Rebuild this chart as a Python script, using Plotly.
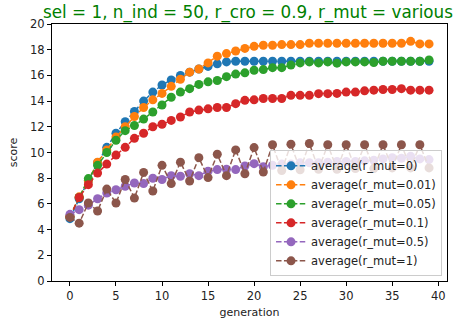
import plotly.graph_objects as go

generation = list(range(40))

mut_0 = [4.85, 6.4, 7.8, 9.2, 10.4, 11.5, 12.4, 13.2, 14.0, 14.7,
         15.25, 15.65, 16.0, 16.25, 16.5, 16.7, 16.9, 17.05, 17.1, 17.1,
         17.1, 17.1, 17.1, 17.1, 17.1, 17.1, 17.1, 17.1, 17.1, 17.1,
         17.1, 17.1, 17.1, 17.1, 17.1, 17.1, 17.1, 17.1, 17.1, 17.1]
mut_001 = [5.0, 6.55, 7.8, 9.25, 10.2, 11.2, 12.0, 12.8, 13.5, 14.1,
           14.6, 15.15, 15.7, 16.25, 16.5, 16.97, 17.5, 17.7, 17.9, 18.1,
           18.26, 18.35, 18.35, 18.4, 18.4, 18.4, 18.5, 18.5, 18.5, 18.5,
           18.5, 18.5, 18.5, 18.5, 18.5, 18.5, 18.5, 18.65, 18.45, 18.45]
mut_005 = [5.0, 6.5, 7.97, 9.0, 10.0, 10.95, 11.7, 12.1, 12.6, 13.15,
           13.7, 14.3, 14.7, 14.97, 15.3, 15.5, 15.6, 15.9, 16.1, 16.2,
           16.4, 16.45, 16.6, 16.6, 16.8, 16.97, 17.05, 16.97, 17.05, 16.95,
           17.05, 17.05, 17.05, 17.0, 17.1, 17.1, 17.1, 17.1, 17.1, 17.2]
mut_01 = [5.0, 6.5, 7.5, 8.4, 9.1, 9.8, 10.4, 11.1, 11.5, 12.0,
          12.2, 12.5, 12.76, 13.15, 13.3, 13.4, 13.5, 13.5, 13.8, 14.06,
          14.1, 14.2, 14.2, 14.2, 14.45, 14.45, 14.45, 14.58, 14.58, 14.6,
          14.7, 14.7, 14.8, 14.85, 14.9, 14.9, 14.97, 14.85, 14.85, 14.85]
mut_05 = [5.19, 5.55, 5.9, 6.4, 6.85, 7.1, 7.37, 7.63, 7.58, 8.0,
          7.9, 8.2, 8.15, 8.35, 8.2, 8.55, 8.67, 8.7, 8.67, 8.95,
          9.13, 8.9, 9.0, 9.1, 9.1, 9.2, 9.2, 9.2, 9.25, 9.3,
          9.3, 9.3, 9.35, 9.4, 9.5, 9.6, 9.55, 9.7, 9.5, 9.45]
mut_1 = [4.95, 4.5, 6.07, 5.45, 7.15, 6.07, 7.9, 6.45, 8.45, 7.0,
         9.0, 7.58, 9.25, 7.78, 9.6, 8.05, 9.86, 8.2, 10.2, 8.35,
         10.38, 8.48, 10.6, 8.6, 10.65, 8.65, 10.7, 8.7, 10.6, 8.7,
         10.6, 8.75, 10.6, 8.75, 10.6, 8.8, 10.6, 8.8, 10.6, 8.8]

series_names = ["average(r_mut=0)", "average(r_mut=0.01)", "average(r_mut=0.05)",
                "average(r_mut=0.1)", "average(r_mut=0.5)", "average(r_mut=1)"]
series_values = [mut_0, mut_001, mut_005, mut_01, mut_05, mut_1]
colors = ["#1f77b4", "#ff7f0e", "#2ca02c", "#d62728", "#9467bd", "#8c564b"]

y_ticks = list(range(0, 21, 2))
x_ticks = list(range(0, 41, 5))

FONT = "DejaVu Sans"
TITLE = "sel = 1, n_ind = 50, r_cro = 0.9, r_mut = various"

fig = go.Figure()
for name, vals, col in zip(series_names, series_values, colors):
    fig.add_trace(go.Scatter(
        x=generation, y=vals, name=name, mode="lines+markers",
        line=dict(color=col, width=1.5, dash="5.5px,2.4px"),
        marker=dict(color=col, size=9, line=dict(width=0)),
    ))

axis_common = dict(
    showline=True, mirror=True, linecolor="black", linewidth=1,
    ticks="outside", ticklen=4, tickcolor="black", tickwidth=1,
    showgrid=False, zeroline=False, automargin=False,
    tickfont=dict(family=FONT, size=11.5, color="#222222"),
)

fig.update_layout(
    width=457, height=322,
    margin=dict(l=52, r=10, t=24, b=41, autoexpand=False),
    paper_bgcolor="white", plot_bgcolor="white",
    font=dict(family=FONT, size=11, color="#222222"),
    xaxis=dict(range=[-1.95, 40.95], tickvals=x_ticks,
               title=dict(text="generation", font=dict(family=FONT, size=11), standoff=6),
               **axis_common),
    yaxis=dict(range=[0, 20], tickvals=y_ticks,
               title=dict(text="score", font=dict(family=FONT, size=11), standoff=10),
               **axis_common),
    legend=dict(x=0.552, y=0.018, xanchor="left", yanchor="bottom",
                bgcolor="rgba(255,255,255,0.8)", bordercolor="#cccccc", borderwidth=1,
                font=dict(family=FONT, size=11.5, color="#222222"),
                tracegroupgap=0, itemwidth=30),
    showlegend=True,
)

fig.add_annotation(
    text=TITLE, showarrow=False,
    xref="paper", x=(41 - 52) / 395, xanchor="left",
    yref="paper", y=1 - 1.5 / 257, yanchor="bottom",
    font=dict(family=FONT, size=16.8, color="green"),
)

fig.write_html("out.html")
